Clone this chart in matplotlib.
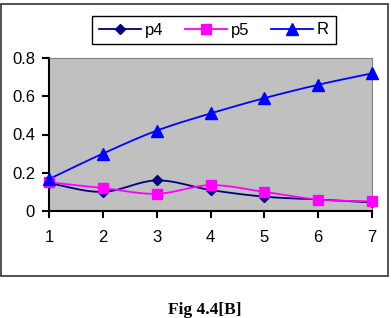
import numpy as np
import matplotlib.pyplot as plt
from matplotlib.patches import Rectangle

x = [1, 2, 3, 4, 5, 6, 7]
p4 = [0.145, 0.10, 0.16, 0.11, 0.075, 0.06, 0.045]
p5 = [0.15, 0.12, 0.09, 0.135, 0.10, 0.06, 0.05]
R = [0.167, 0.30, 0.42, 0.51, 0.59, 0.66, 0.72]


def smooth(xs, ys, n=20):
    # catmull-rom curve through the points, like Excel's smoothed line
    xs = np.asarray(xs, float)
    ys = np.asarray(ys, float)
    px = np.concatenate([[2 * xs[0] - xs[1]], xs, [2 * xs[-1] - xs[-2]]])
    py = np.concatenate([[2 * ys[0] - ys[1]], ys, [2 * ys[-1] - ys[-2]]])
    ox, oy = [], []
    t = np.linspace(0, 1, n)
    for i in range(1, len(px) - 2):
        for p, out in ((px, ox), (py, oy)):
            a, b, c, d = p[i - 1], p[i], p[i + 1], p[i + 2]
            out.extend(0.5 * (2 * b + (-a + c) * t + (2 * a - 5 * b + 4 * c - d) * t ** 2
                              + (-a + 3 * b - 3 * c + d) * t ** 3))
    return ox, oy


plt.rcParams['font.family'] = ['Liberation Sans', 'DejaVu Sans']

fig = plt.figure(figsize=(3.92, 3.18), dpi=100)
fig.patches.append(Rectangle((0.5 / 392, 1 - 276 / 318), 387 / 392, 272 / 318,
                             transform=fig.transFigure, fill=False,
                             edgecolor='#333333', linewidth=1.2))

ax = fig.add_axes([49 / 392, 1 - 211 / 318, 323 / 392, 153 / 318])
ax.set_facecolor('#C0C0C0')

series = [(p4, 'p4', '#000080', 'D', 5.5),
          (p5, 'p5', '#FF00FF', 's', 7.5),
          (R, 'R', '#0000FF', '^', 8)]
handles = []
for ys, name, col, mk, ms in series:
    sx, sy = smooth(x, ys)
    ax.plot(sx, sy, color=col, linewidth=1.3, zorder=2)
    ax.plot(x, ys, linestyle='none', marker=mk, color=col, markersize=ms,
            clip_on=False, zorder=3)
    h, = ax.plot([], [], color=col, marker=mk, markersize=ms, linewidth=1.3, label=name)
    handles.append(h)

ax.set_xlim(1, 7)
ax.set_ylim(0, 0.8)
ax.set_xticks(x)
ax.set_yticks([0, 0.2, 0.4, 0.6, 0.8])
ax.set_yticklabels(['0', '0.2', '0.4', '0.6', '0.8'])
ax.tick_params(axis='both', labelsize=12, direction='out', color='black')
ax.tick_params(axis='y', length=5, width=1.5, pad=5)
ax.tick_params(axis='x', length=5, width=1.5, pad=9)
for s in ['top', 'right']:
    ax.spines[s].set_color('#808080')
    ax.spines[s].set_linewidth(0.8)
for s in ['left', 'bottom']:
    ax.spines[s].set_color('black')
    ax.spines[s].set_linewidth(1.5)

leg = fig.legend(handles=handles, loc='center', bbox_to_anchor=(214 / 392, 1 - 30 / 318),
                 ncol=3, fontsize=12, frameon=True, fancybox=False, edgecolor='black',
                 framealpha=1, handlelength=2.5, columnspacing=1.3, handletextpad=0.25,
                 borderpad=0.4)
leg.get_frame().set_linewidth(1.0)

fig.text(205 / 392, 1 - 302 / 318, 'Fig 4.4[B]', ha='center', va='top',
         fontsize=12.5, fontweight='bold', family=['Liberation Serif', 'DejaVu Serif'])

fig.savefig('out.png', dpi=100)
